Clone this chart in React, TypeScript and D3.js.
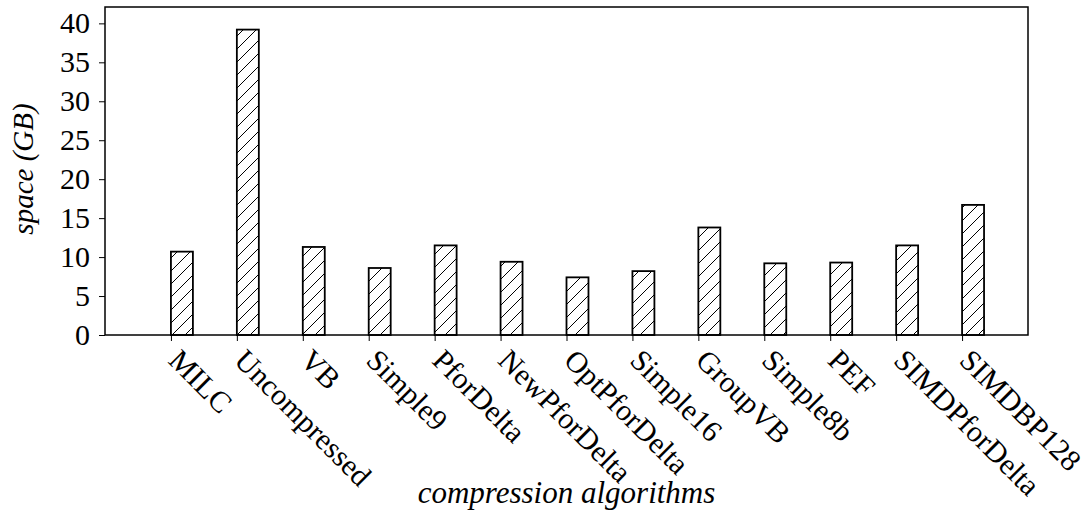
import React, { useEffect, useRef } from "react";
import * as d3 from "d3";

// compression schemes and index size (GB)
const algorithms: string[] = [
  "MILC",
  "Uncompressed",
  "VB",
  "Simple9",
  "PforDelta",
  "NewPforDelta",
  "OptPforDelta",
  "Simple16",
  "GroupVB",
  "Simple8b",
  "PEF",
  "SIMDPforDelta",
  "SIMDBP128",
];
const spaceGB: number[] = [10.7, 39.2, 11.3, 8.6, 11.5, 9.4, 7.4, 8.2, 13.8, 9.2, 9.3, 11.5, 16.7];
const yTicks: number[] = [0, 5, 10, 15, 20, 25, 30, 35, 40];

const App: React.FC = () => {
  const ref = useRef<SVGSVGElement | null>(null);

  useEffect(() => {
    if (!ref.current) return;
    const W = 1088,
      H = 523;
    const left = 105,
      right = 1028,
      top = 7,
      bottom = 335;
    const font = "'Liberation Serif', 'Times New Roman', serif";

    const svg = d3.select(ref.current).attr("width", W).attr("height", H);
    svg.selectAll("*").remove();

    // hatch pattern "//"
    const defs = svg.append("defs");
    const pat = defs
      .append("pattern")
      .attr("id", "hatch")
      .attr("patternUnits", "userSpaceOnUse")
      .attr("width", 13)
      .attr("height", 13);
    pat.append("rect").attr("width", 13).attr("height", 13).attr("fill", "white");
    pat
      .append("path")
      .attr("d", "M-1,1 L1,-1 M0,13 L13,0 M12,14 L14,12")
      .attr("stroke", "black")
      .attr("stroke-width", 1);

    // x positions: 14 slots, ticks at 1..13
    const x = d3.scaleLinear().domain([0, algorithms.length + 1]).range([left, right]);
    const y = d3.scaleLinear().domain([0, 42.1]).range([bottom, top]);
    const barW = (x(1) - x(0)) / 3;

    // bars
    svg
      .append("g")
      .selectAll("rect")
      .data(spaceGB)
      .join("rect")
      .attr("x", (_, i) => x(i + 1))
      .attr("y", (d) => y(d))
      .attr("width", barW)
      .attr("height", (d) => y(0) - y(d))
      .attr("fill", "url(#hatch)")
      .attr("stroke", "black")
      .attr("stroke-width", 1.8);

    // frame
    svg
      .append("rect")
      .attr("x", left)
      .attr("y", top)
      .attr("width", right - left)
      .attr("height", bottom - top)
      .attr("fill", "none")
      .attr("stroke", "black")
      .attr("stroke-width", 1.5);

    // y axis
    const yAxis = svg
      .append("g")
      .attr("transform", `translate(${left},0)`)
      .call(d3.axisLeft(y).tickValues(yTicks).tickSize(6).tickPadding(9));
    yAxis.select(".domain").remove();
    yAxis.selectAll("line").attr("stroke", "black").attr("stroke-width", 1);
    yAxis
      .selectAll("text")
      .attr("fill", "black")
      .style("font-family", font)
      .style("font-size", "30px");

    // x axis ticks
    const xAxis = svg
      .append("g")
      .attr("transform", `translate(0,${bottom})`)
      .call(
        d3
          .axisBottom(x)
          .tickValues(d3.range(1, algorithms.length + 1))
          .tickSize(6)
          .tickFormat(() => "")
      );
    xAxis.select(".domain").remove();
    xAxis.selectAll("line").attr("stroke", "black").attr("stroke-width", 1);

    // rotated category labels
    svg
      .append("g")
      .selectAll("text")
      .data(algorithms)
      .join("text")
      .attr("transform", (_, i) => `translate(${x(i + 1) - 4},${bottom + 27}) rotate(45)`)
      .attr("text-anchor", "start")
      .style("font-family", font)
      .style("font-size", "30px")
      .text((d) => d);

    // axis titles
    svg
      .append("text")
      .attr("x", (left + right) / 2)
      .attr("y", 503)
      .attr("text-anchor", "middle")
      .style("font-family", font)
      .style("font-style", "italic")
      .style("font-size", "31px")
      .text("compression algorithms");

    svg
      .append("text")
      .attr("transform", `translate(33,169) rotate(-90)`)
      .attr("text-anchor", "middle")
      .style("font-family", font)
      .style("font-style", "italic")
      .style("font-size", "29px")
      .text("space (GB)");
  }, []);

  return (
    <svg
      ref={ref}
      style={{ position: "absolute", left: 0, top: 0, background: "white" }}
    />
  );
};

export default App;
